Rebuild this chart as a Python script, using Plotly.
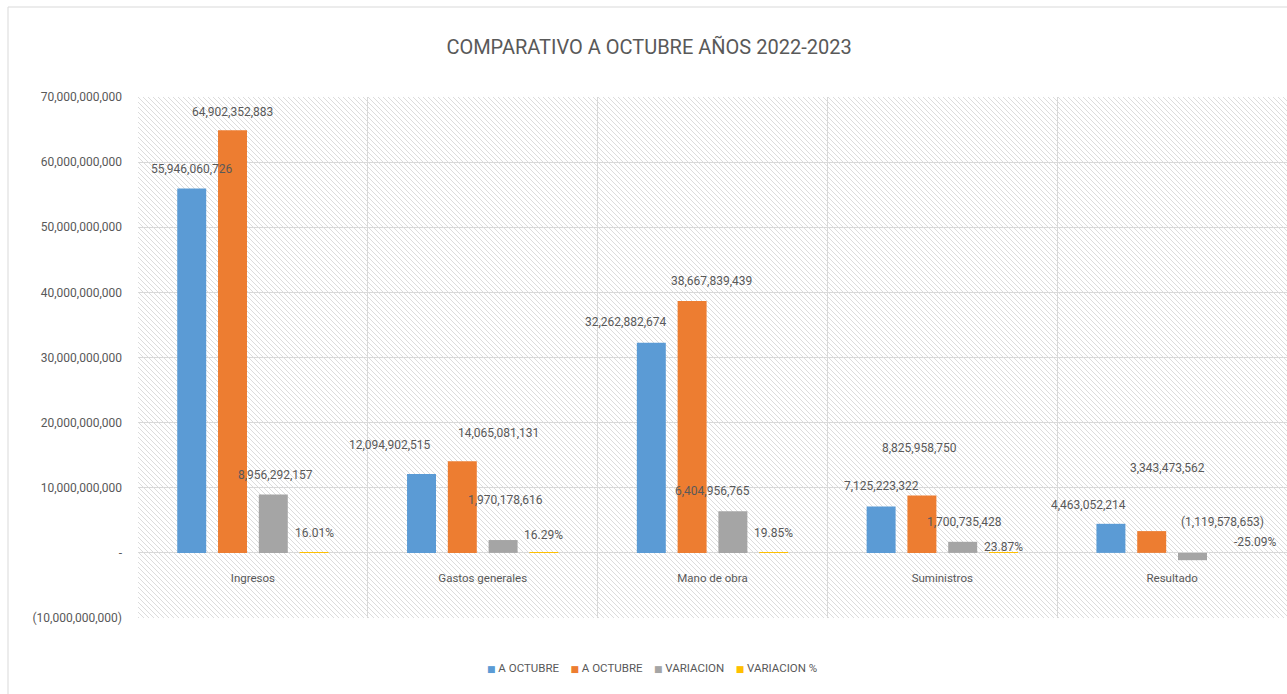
import plotly.graph_objects as go

# ---------------- data ----------------
categories = ["Ingresos", "Gastos generales", "Mano de obra", "Suministros", "Resultado"]
series_names = ["A OCTUBRE", "A OCTUBRE", "VARIACION", "VARIACION %"]
a_octubre_2022 = [55946060726, 12094902515, 32262882674, 7125223322, 4463052214]
a_octubre_2023 = [64902352883, 14065081131, 38667839439, 8825958750, 3343473562]
variacion = [8956292157, 1970178616, 6404956765, 1700735428, -1119578653]
variacion_pct = [0.1601, 0.1629, 0.1985, 0.2387, -0.2509]
y_tick_values = [-10e9, 0, 10e9, 20e9, 30e9, 40e9, 50e9, 60e9, 70e9]

# ---------------- style ----------------
colors = ["#5B9BD5", "#ED7D31", "#A5A5A5", "#FFC000"]
FONT = "Roboto, Liberation Sans, sans-serif"
TXT = "#595959"
GRID = "#D9D9D9"
W, H = 1287, 694
ML, MT, MB, MR = 138, 97, 76, 0
BARGAP, GROUPGAP = 0.29, 0.29
# per-label pixel nudges (dx, dy) like the manually moved Excel labels
label_shift = [
    [(0, -20), (-32, -29), (-25, -21), (0, -20), (-22, -19)],
    [(0, -18), (36, -28), (19, -20), (-2, -47), (16, -63)],
    [(2, -20), (2, -40), (-20, -20), (2, -20), (30, -31)],
    [(0, -20), (0, -18), (0, -20), (0, -6), (22, -11)],
]


def fmt_num(v):
    if v == 0:
        return "-"
    s = f"{abs(v):,.0f}"
    return f"({s})" if v < 0 else s


def fmt_pct(v):
    return f"{v * 100:.2f}%"


all_series = [a_octubre_2022, a_octubre_2023, variacion, variacion_pct]
formatters = [fmt_num, fmt_num, fmt_num, fmt_pct]

fig = go.Figure()
for name, vals, col in zip(series_names, all_series, colors):
    fig.add_trace(go.Bar(name=name, x=categories, y=vals, marker_color=col,
                         marker_line_width=0, hoverinfo="skip", showlegend=False))

# data labels
n = len(all_series)
slot = (1 - BARGAP) / n
annotations = []
for k, (vals, f) in enumerate(zip(all_series, formatters)):
    for i, v in enumerate(vals):
        dx, dy = label_shift[k][i]
        annotations.append(dict(
            x=i + (k - (n - 1) / 2) * slot, y=max(v, 0), xref="x", yref="y",
            text=f(v), showarrow=False, xanchor="center", yanchor="middle",
            xshift=dx, yshift=-dy, font=dict(family=FONT, size=12, color=TXT)))

# compact Excel-style legend (small squares right before the names)
pw, ph = W - ML - MR, H - MT - MB
legend_text = "&nbsp;&nbsp;&nbsp;&nbsp;".join(
    f"<span style='color:{c};font-family:DejaVu Sans;font-size:9px'>■</span> {nm}"
    for nm, c in zip(series_names, colors))
annotations.append(dict(x=(652 - ML) / pw, y=-50 / ph, xref="paper", yref="paper",
                        text=legend_text, showarrow=False, xanchor="center", yanchor="middle",
                        font=dict(family=FONT, size=11.5, color=TXT)))

# hatch background
svg = (f"<svg xmlns='http://www.w3.org/2000/svg' width='{pw}' height='{ph}'>"
       "<defs><pattern id='p' width='5' height='5' patternUnits='userSpaceOnUse'>"
       "<path d='M0,0 L5,5 M-1,4 L1,6 M4,-1 L6,1' stroke='#D8D8D8' stroke-width='0.9'/>"
       "</pattern></defs><rect width='100%' height='100%' fill='url(#p)'/></svg>")
src = "data:image/svg+xml;utf8," + svg.replace("<", "%3C").replace(">", "%3E").replace("#", "%23")

ymin, ymax = -10e9, 70e9
zero_pos = (0 - ymin) / (ymax - ymin)

fig.update_layout(
    width=W, height=H,
    margin=dict(l=ML, r=MR, t=MT, b=MB),
    paper_bgcolor="white", plot_bgcolor="white",
    barmode="group", bargap=BARGAP, bargroupgap=GROUPGAP,
    font=dict(family=FONT, size=12, color=TXT),
    showlegend=False,
    title=dict(text="COMPARATIVO A OCTUBRE AÑOS 2022-2023", x=(649 / W), xanchor="center",
               y=1 - 47 / H, yanchor="middle",
               font=dict(family=FONT, size=20, color=TXT)),
    xaxis=dict(showgrid=True, gridcolor=GRID, gridwidth=1, tickson="boundaries",
               ticks="", showline=False, anchor="free", position=zero_pos,
               ticklabelstandoff=17, tickfont=dict(family=FONT, size=11.5, color=TXT),
               range=[-0.5, 4.5], zeroline=False),
    yaxis=dict(range=[ymin, ymax], tickvals=y_tick_values,
               ticktext=[fmt_num(v) for v in y_tick_values],
               showgrid=True, gridcolor=GRID, gridwidth=1, zeroline=True,
               zerolinecolor=GRID, zerolinewidth=1, ticks="", ticklabelstandoff=15,
               tickfont=dict(family=FONT, size=12, color=TXT)),
    annotations=annotations,
    images=[dict(source=src, xref="paper", yref="paper", x=0, y=1, sizex=1, sizey=1,
                 xanchor="left", yanchor="top", sizing="stretch", layer="below")],
    shapes=[dict(type="rect", xref="paper", yref="paper",
                 x0=(8 - ML) / pw, x1=1.2, y0=-0.3, y1=1 + (MT - 7) / ph,
                 line=dict(color=GRID, width=1), fillcolor="rgba(0,0,0,0)", layer="below")],
)

fig.write_html("out.html", config={"displayModeBar": False},
               post_script="document.body.style.margin='0';document.body.style.overflow='hidden';")
